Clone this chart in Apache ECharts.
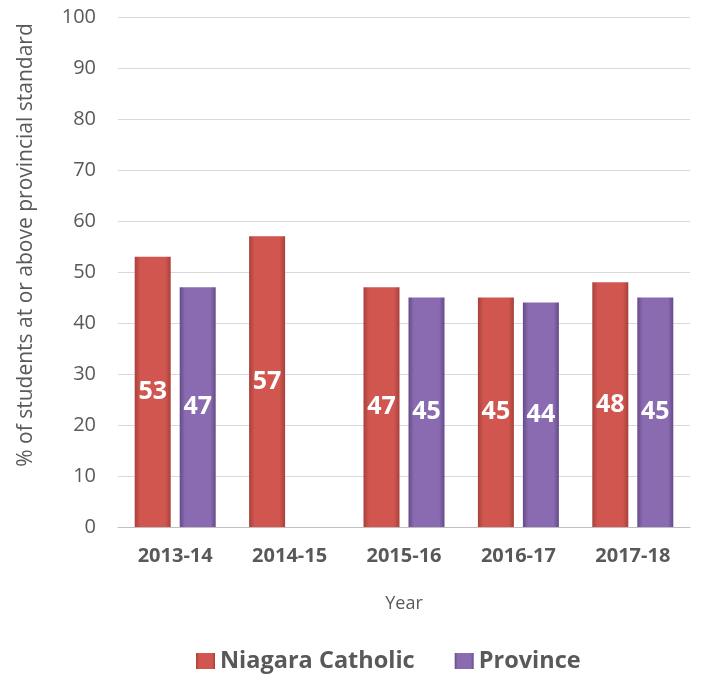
<!DOCTYPE html>
<html>
<head>
<meta charset="utf-8">
<script src="https://cdn.jsdelivr.net/npm/echarts@6/dist/echarts.min.js"></script>
<style>
  html, body { margin: 0; padding: 0; background: #fff; }
  #chart { width: 701px; height: 684px; }
</style>
</head>
<body>
<div id="chart"></div>
<script>
  // 数据
  const years = ['2013-14', '2014-15', '2015-16', '2016-17', '2017-18'];
  const niagara = [53, 57, 47, 45, 48];
  const province = [47, null, 45, 44, 45];
  const yTicks = [0, 10, 20, 30, 40, 50, 60, 70, 80, 90, 100];

  const fontFam = '"Open Sans", sans-serif';

  function barGrad(edge, mid) {
    return new echarts.graphic.LinearGradient(0, 0, 1, 0, [
      { offset: 0, color: edge },
      { offset: 0.15, color: mid },
      { offset: 0.85, color: mid },
      { offset: 1, color: edge }
    ]);
  }

  const chart = echarts.init(document.getElementById('chart'));
  chart.setOption({
    animation: false,
    grid: { left: 118, right: 11, top: 17, bottom: 157 },
    legend: {
      bottom: 6,
      left: 191,
      itemWidth: 19,
      itemHeight: 16,
      itemGap: 40,
      icon: 'rect',
      textStyle: { fontFamily: fontFam, fontSize: 23.5, fontWeight: 'bold', color: '#595959' },
      data: ['Niagara Catholic', 'Province']
    },
    xAxis: {
      type: 'category',
      data: years,
      name: 'Year',
      nameLocation: 'middle',
      nameGap: 68,
      nameTextStyle: { fontFamily: fontFam, fontSize: 18, color: '#595959' },
      axisLine: { lineStyle: { color: '#bfbfbf' } },
      axisTick: { show: false },
      axisLabel: { fontFamily: fontFam, fontSize: 20, fontWeight: 'bold', color: '#595959', margin: 19 }
    },
    yAxis: {
      type: 'value',
      min: yTicks[0],
      max: yTicks[yTicks.length - 1],
      interval: 10,
      name: '% of students at or above provincial standard',
      nameLocation: 'middle',
      nameGap: 81,
      nameTextStyle: { fontFamily: fontFam, fontSize: 21, color: '#595959', padding: [0, 0, 0, 54] },
      axisLine: { show: false },
      axisTick: { show: false },
      axisLabel: { fontFamily: fontFam, fontSize: 20, color: '#595959', margin: 22 },
      splitLine: { lineStyle: { color: '#d9d9d9' } }
    },
    series: [
      {
        name: 'Niagara Catholic',
        type: 'bar',
        data: niagara,
        barWidth: 36,
        barGap: '25%',
        itemStyle: { color: barGrad('#a8403c', '#d0564f') },
        label: {
          show: true, position: 'inside', color: '#fff',
          fontFamily: fontFam, fontSize: 25, fontWeight: 'bold'
        }
      },
      {
        name: 'Province',
        type: 'bar',
        data: province,
        barWidth: 36,
        itemStyle: { color: barGrad('#654b8a', '#8a6bb1') },
        label: {
          show: true, position: 'inside', color: '#fff',
          fontFamily: fontFam, fontSize: 25, fontWeight: 'bold'
        }
      }
    ]
  });
</script>
</body>
</html>
